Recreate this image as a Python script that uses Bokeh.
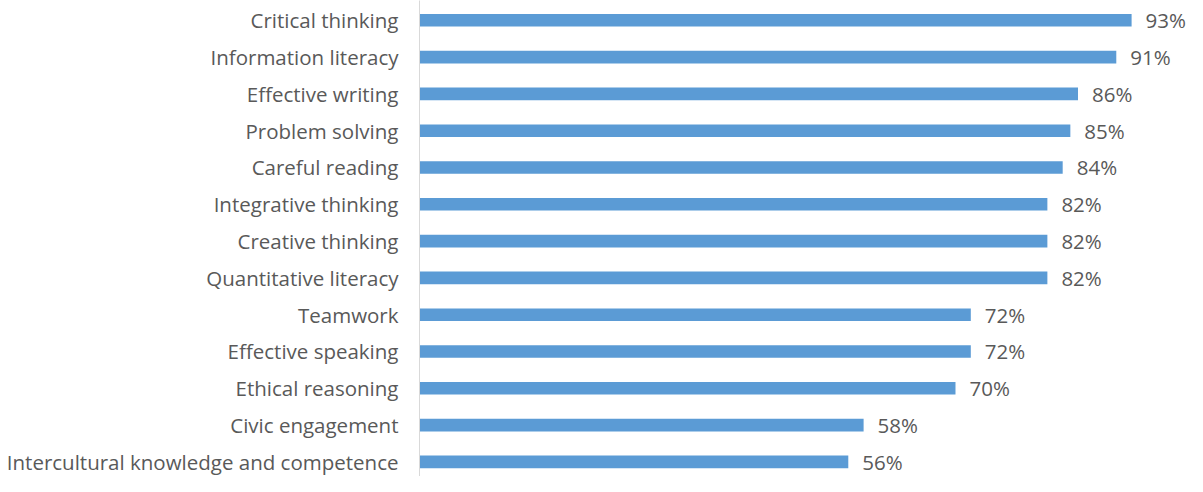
from bokeh.plotting import figure
from bokeh.models import ColumnDataSource, Range1d, FixedTicker
from bokeh.embed import file_html
from bokeh.resources import INLINE
from bokeh.core.properties import value

categories = [
    "Critical thinking",
    "Information literacy",
    "Effective writing",
    "Problem solving",
    "Careful reading",
    "Integrative thinking",
    "Creative thinking",
    "Quantitative literacy",
    "Teamwork",
    "Effective speaking",
    "Ethical reasoning",
    "Civic engagement",
    "Intercultural knowledge and competence",
]
percentages = [93, 91, 86, 85, 84, 82, 82, 82, 72, 72, 70, 58, 56]

n = len(categories)
ypos = [n - 1 - i for i in range(n)]
labels = [f"{v}%" for v in percentages]

src = ColumnDataSource(dict(y=ypos, v=percentages, lab=labels, cat=categories))

FONT = "Open Sans"
TXT = "#595959"
FS = "20.5px"

p = figure(width=1187, height=476, output_backend="svg", toolbar_location=None,
           x_range=Range1d(0, 100.3), y_range=Range1d(-0.397, 12.538),
           min_border_left=419, min_border_right=0, min_border_top=0, min_border_bottom=0)

p.hbar(y="y", left=0, right="v", height=0.342, source=src,
       fill_color="#5B9BD5", line_color=None)

p.text(x="v", y="y", text="lab", source=src, x_offset=14,
       text_baseline="middle", text_align="left",
       text_font=value(FONT), text_font_size=FS, text_color=TXT)

p.xaxis.visible = False
p.grid.visible = False
p.outline_line_color = None
p.background_fill_color = "white"
p.border_fill_color = "white"

ya = p.yaxis[0]
ya.ticker = FixedTicker(ticks=ypos)
ya.major_label_overrides = {y: c for y, c in zip(ypos, categories)}
ya.major_tick_out = 0
ya.major_tick_in = 0
ya.minor_tick_out = 0
ya.minor_tick_in = 0
ya.major_label_standoff = 21
ya.axis_line_color = "#D9D9D9"
ya.axis_line_width = 1
ya.major_label_text_font = FONT
ya.major_label_text_font_size = FS
ya.major_label_text_color = TXT

open("out.html", "w").write(file_html(p, INLINE))
